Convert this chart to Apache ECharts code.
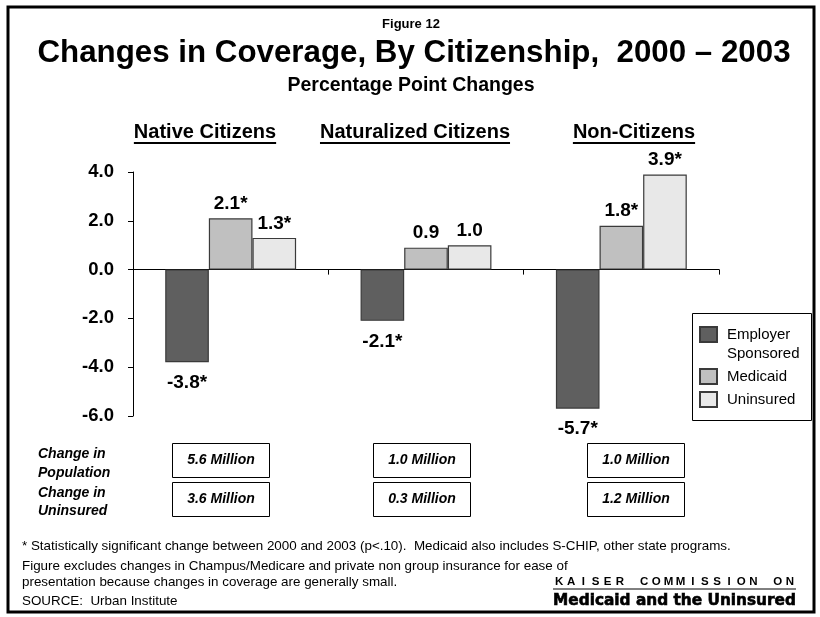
<!DOCTYPE html>
<html><head><meta charset="utf-8">
<script src="https://cdn.jsdelivr.net/npm/echarts@6/dist/echarts.min.js"></script>
<style>html,body{margin:0;padding:0;background:#fff}#c{width:820px;height:617px}</style>
</head><body><div id="c"></div>
<script>
// ---- data ----
const categories = ['Native Citizens', 'Naturalized Citizens', 'Non-Citizens'];
const seriesNames = ['Employer Sponsored', 'Medicaid', 'Uninsured'];
const employer = [-3.8, -2.1, -5.7];
const medicaid = [2.1, 0.9, 1.8];
const uninsured = [1.3, 1.0, 3.9];
const sigEmployer = [true, true, true];
const sigMedicaid = [true, false, true];
const sigUninsured = [true, false, true];
const yTicks = [-6, -4, -2, 0, 2, 4];
const popChange = ['5.6 Million', '1.0 Million', '1.0 Million'];
const uninsChange = ['3.6 Million', '0.3 Million', '1.2 Million'];
const rowLabels = ['Change in\nPopulation', 'Change in\nUninsured'];
const figureLabel = 'Figure 12';
const titleText = 'Changes in Coverage, By Citizenship,  2000 \u2013 2003';
const subtitleText = 'Percentage Point Changes';
const footnotes = [
  '* Statistically significant change between 2000 and 2003 (p<.10).  Medicaid also includes S-CHIP, other state programs.',
  'Figure excludes changes in Champus/Medicare and private non group insurance for ease of',
  'presentation because changes in coverage are generally small.',
  'SOURCE:  Urban Institute'
];
const kaiserTop = 'KAISER COMMISSION ON';
const kaiserBottom = 'Medicaid and the Uninsured';

// ---- layout / style ----
const FF = '"Liberation Sans", Arial, Helvetica, sans-serif';
const colors = ['#5f5f5f', '#c0c0c0', '#e8e8e8'];
const headerCenters = [205, 415, 634];
const boxLefts = [172, 373, 587];
const boxW = 97;
const boxRows = [{ y: 443, h: 34 }, { y: 482, h: 34 }];
const footY = [546, 566, 582, 601];

const ctx = document.createElement('canvas').getContext('2d');
function tw(text, font) { ctx.font = font; return ctx.measureText(text).width; }

function mkSeries(name, vals, sig, color) {
  return {
    name: name, type: 'bar', barGap: '0%', barCategoryGap: '33%',
    itemStyle: { color: color, borderColor: '#3a3a3a', borderWidth: 1.2 },
    data: vals.map(v => ({ value: v, label: { position: v < 0 ? 'bottom' : 'top', distance: v < 0 ? 11 : 5 } })),
    label: {
      show: true, fontFamily: FF, fontSize: 19, fontWeight: 'bold', color: '#000',
      formatter: p => p.value.toFixed(1) + (sig[p.dataIndex] ? '*' : '')
    },
    emphasis: { disabled: true }
  };
}

const graphics = [];
// frame
graphics.push({ type: 'rect', shape: { x: 8, y: 7, width: 806, height: 605 }, style: { fill: 'none', stroke: '#000', lineWidth: 3 }, z: 100 });
// titles
graphics.push({ type: 'text', x: 411, y: 24, style: { text: figureLabel, font: 'bold 13px ' + FF, fill: '#000', textAlign: 'center', textVerticalAlign: 'middle' } });
graphics.push({ type: 'text', x: 414, y: 53, style: { text: titleText, font: 'bold 31.3px ' + FF, fill: '#000', textAlign: 'center', textVerticalAlign: 'middle' } });
graphics.push({ type: 'text', x: 411, y: 86, style: { text: subtitleText, font: 'bold 19.5px ' + FF, fill: '#000', textAlign: 'center', textVerticalAlign: 'middle' } });
// group headers with underline
const hFont = 'bold 20px ' + FF;
categories.forEach((c, i) => {
  const w = tw(c, hFont);
  graphics.push({ type: 'text', x: headerCenters[i], y: 132, style: { text: c, font: hFont, fill: '#000', textAlign: 'center', textVerticalAlign: 'middle' } });
  graphics.push({ type: 'line', shape: { x1: headerCenters[i] - w / 2, y1: 143, x2: headerCenters[i] + w / 2, y2: 143 }, style: { stroke: '#000', lineWidth: 2 } });
});
// legend frame
graphics.push({ type: 'rect', shape: { x: 692.5, y: 313.5, width: 119, height: 107 }, style: { fill: 'none', stroke: '#000', lineWidth: 1 } });
// row labels
graphics.push({ type: 'text', x: 38, y: 463.5, style: { text: rowLabels[0], font: 'italic bold 14px ' + FF, lineHeight: 19, fill: '#000', textAlign: 'left', textVerticalAlign: 'middle' } });
graphics.push({ type: 'text', x: 38, y: 502.5, style: { text: rowLabels[1], font: 'italic bold 14px ' + FF, lineHeight: 18, fill: '#000', textAlign: 'left', textVerticalAlign: 'middle' } });
// boxes
[popChange, uninsChange].forEach((arr, r) => {
  arr.forEach((t, i) => {
    graphics.push({ type: 'rect', shape: { x: boxLefts[i] + 0.5, y: boxRows[r].y + 0.5, width: boxW, height: boxRows[r].h }, style: { fill: '#fff', stroke: '#000', lineWidth: 1 } });
    graphics.push({ type: 'text', x: boxLefts[i] + boxW / 2 + 0.5, y: boxRows[r].y + boxRows[r].h / 2 + 0.5, style: { text: t, font: 'italic bold 14px ' + FF, fill: '#000', textAlign: 'center', textVerticalAlign: 'middle' } });
  });
});
// footnotes
footnotes.forEach((t, i) => {
  graphics.push({ type: 'text', x: 22, y: footY[i], style: { text: t, font: '13.4px ' + FF, fill: '#000', textAlign: 'left', textVerticalAlign: 'middle' } });
});
// Kaiser logo: evenly spaced letters (centred in equal cells)
const kFont = 'bold 11.5px ' + FF;
const kChars = kaiserTop.split('');
const kLeft = 553, kRight = 796;
const kCell = (kRight - kLeft) / kChars.length;
kChars.forEach((ch, i) => {
  if (ch === ' ') return;
  graphics.push({ type: 'text', x: kLeft + (i + 0.5) * kCell, y: 582, style: { text: ch, font: kFont, fill: '#000', textAlign: 'center', textVerticalAlign: 'middle' } });
});
graphics.push({ type: 'line', shape: { x1: kLeft, y1: 589, x2: kRight, y2: 589 }, style: { stroke: '#000', lineWidth: 1 } });
const mBase = tw(kaiserBottom, 'bold 10px "DejaVu Sans"');
const mSize = (10 * 243 / mBase).toFixed(2);
graphics.push({ type: 'text', x: 674.5, y: 601, style: { text: kaiserBottom, font: 'bold ' + mSize + 'px "DejaVu Sans", sans-serif', fill: '#000', stroke: '#000', lineWidth: 0.6, textAlign: 'center', textVerticalAlign: 'middle' } });

const chart = echarts.init(document.getElementById('c'), null, { renderer: 'canvas' });
chart.setOption({
  animation: false,
  backgroundColor: '#fff',
  grid: { left: 133, right: 101, top: 172, bottom: 201, containLabel: false },
  legend: {
    orient: 'vertical', left: 699, top: 306, padding: 0, itemGap: 4,
    itemWidth: 17, itemHeight: 15, icon: 'rect',
    textStyle: { fontSize: 15, fontFamily: FF, color: '#000', lineHeight: 19, padding: [0, 0, 0, 5] },
    data: seriesNames,
    formatter: n => n === seriesNames[0] ? ' \nEmployer\nSponsored' : n,
    selectedMode: false
  },
  xAxis: {
    type: 'category', data: categories,
    axisLine: { onZero: true, lineStyle: { color: '#000', width: 1 } },
    axisTick: { show: true, length: 5, lineStyle: { color: '#000' } },
    axisLabel: { show: false },
    splitLine: { show: false }
  },
  yAxis: {
    type: 'value', min: yTicks[0], max: yTicks[yTicks.length - 1], interval: 2,
    axisLine: { show: true, lineStyle: { color: '#000', width: 1 } },
    axisTick: { show: true, length: 5, lineStyle: { color: '#000' } },
    axisLabel: { fontFamily: FF, fontSize: 18.5, fontWeight: 'bold', color: '#000', margin: 19, formatter: v => v.toFixed(1) },
    splitLine: { show: false }
  },
  series: [
    mkSeries(seriesNames[0], employer, sigEmployer, colors[0]),
    mkSeries(seriesNames[1], medicaid, sigMedicaid, colors[1]),
    mkSeries(seriesNames[2], uninsured, sigUninsured, colors[2])
  ],
  graphic: graphics
});
</script>
</body></html>
